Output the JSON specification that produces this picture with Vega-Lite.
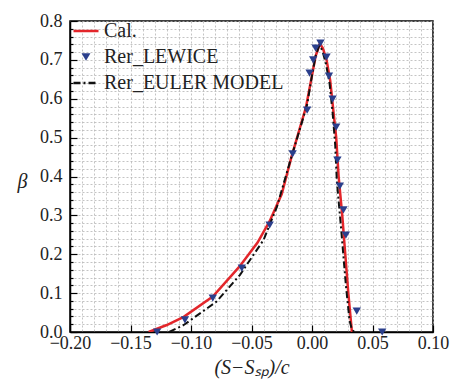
{
  "$schema": "https://vega.github.io/schema/vega-lite/v6.json",
  "autosize": "none",
  "padding": {"left": 70, "top": 21, "right": 18, "bottom": 47},
  "width": 363,
  "height": 311,
  "background": "white",
  "config": {
    "font": "Liberation Serif, Times New Roman, DejaVu Serif, serif",
    "view": {"stroke": "black", "strokeWidth": 1.5},
    "axis": {"labelFont": "Liberation Serif, Times New Roman, serif", "titleFont": "Liberation Serif, Times New Roman, serif", "labelFontSize": 18, "titleFontSize": 20, "labelColor": "#222", "titleColor": "#222", "domainColor": "black", "domainWidth": 1.5, "tickColor": "black", "tickWidth": 1.2, "gridColor": "#b5b5b5", "gridDash": [2, 2], "gridWidth": 0.8, "titleFontWeight": "normal"},
    "legend": {"labelFont": "Liberation Serif, Times New Roman, serif", "labelFontSize": 20, "labelColor": "#222", "labelLimit": 300}
  },
  "data": {"values": [
    {"series": "Cal.", "x": -0.135, "y": 0.0},
    {"series": "Cal.", "x": -0.12, "y": 0.018},
    {"series": "Cal.", "x": -0.106, "y": 0.039},
    {"series": "Cal.", "x": -0.082, "y": 0.091},
    {"series": "Cal.", "x": -0.06, "y": 0.168},
    {"series": "Cal.", "x": -0.045, "y": 0.23},
    {"series": "Cal.", "x": -0.035, "y": 0.285},
    {"series": "Cal.", "x": -0.025, "y": 0.355},
    {"series": "Cal.", "x": -0.017, "y": 0.45},
    {"series": "Cal.", "x": -0.01, "y": 0.525},
    {"series": "Cal.", "x": -0.005, "y": 0.578},
    {"series": "Cal.", "x": 0.0, "y": 0.66},
    {"series": "Cal.", "x": 0.003, "y": 0.71},
    {"series": "Cal.", "x": 0.0065, "y": 0.742},
    {"series": "Cal.", "x": 0.009, "y": 0.73},
    {"series": "Cal.", "x": 0.012, "y": 0.70},
    {"series": "Cal.", "x": 0.015, "y": 0.648},
    {"series": "Cal.", "x": 0.0176, "y": 0.571},
    {"series": "Cal.", "x": 0.020, "y": 0.50},
    {"series": "Cal.", "x": 0.022, "y": 0.40},
    {"series": "Cal.", "x": 0.025, "y": 0.30},
    {"series": "Cal.", "x": 0.0275, "y": 0.20},
    {"series": "Cal.", "x": 0.030, "y": 0.10},
    {"series": "Cal.", "x": 0.033, "y": 0.0},
    {"series": "Rer_EULER MODEL", "x": -0.118, "y": 0.0},
    {"series": "Rer_EULER MODEL", "x": -0.106, "y": 0.018},
    {"series": "Rer_EULER MODEL", "x": -0.079, "y": 0.078},
    {"series": "Rer_EULER MODEL", "x": -0.0595, "y": 0.147},
    {"series": "Rer_EULER MODEL", "x": -0.04, "y": 0.237},
    {"series": "Rer_EULER MODEL", "x": -0.029, "y": 0.322},
    {"series": "Rer_EULER MODEL", "x": -0.018, "y": 0.44},
    {"series": "Rer_EULER MODEL", "x": -0.01, "y": 0.522},
    {"series": "Rer_EULER MODEL", "x": -0.004, "y": 0.585},
    {"series": "Rer_EULER MODEL", "x": 0.0, "y": 0.66},
    {"series": "Rer_EULER MODEL", "x": 0.003, "y": 0.71},
    {"series": "Rer_EULER MODEL", "x": 0.006, "y": 0.737},
    {"series": "Rer_EULER MODEL", "x": 0.0085, "y": 0.725},
    {"series": "Rer_EULER MODEL", "x": 0.0115, "y": 0.69},
    {"series": "Rer_EULER MODEL", "x": 0.0145, "y": 0.64},
    {"series": "Rer_EULER MODEL", "x": 0.017, "y": 0.565},
    {"series": "Rer_EULER MODEL", "x": 0.0192, "y": 0.48},
    {"series": "Rer_EULER MODEL", "x": 0.0205, "y": 0.39},
    {"series": "Rer_EULER MODEL", "x": 0.0245, "y": 0.25},
    {"series": "Rer_EULER MODEL", "x": 0.028, "y": 0.12},
    {"series": "Rer_EULER MODEL", "x": 0.031, "y": 0.03},
    {"series": "Rer_EULER MODEL", "x": 0.033, "y": 0.006},
    {"series": "Rer_EULER MODEL", "x": 0.035, "y": 0.0},
    {"series": "Rer_LEWICE", "x": -0.128, "y": 0.0},
    {"series": "Rer_LEWICE", "x": -0.105, "y": 0.031},
    {"series": "Rer_LEWICE", "x": -0.082, "y": 0.087},
    {"series": "Rer_LEWICE", "x": -0.058, "y": 0.164},
    {"series": "Rer_LEWICE", "x": -0.035, "y": 0.275},
    {"series": "Rer_LEWICE", "x": -0.016, "y": 0.458},
    {"series": "Rer_LEWICE", "x": -0.004, "y": 0.571},
    {"series": "Rer_LEWICE", "x": -0.002, "y": 0.666},
    {"series": "Rer_LEWICE", "x": 0.001, "y": 0.70},
    {"series": "Rer_LEWICE", "x": 0.003, "y": 0.73},
    {"series": "Rer_LEWICE", "x": 0.007, "y": 0.743},
    {"series": "Rer_LEWICE", "x": 0.012, "y": 0.707},
    {"series": "Rer_LEWICE", "x": 0.014, "y": 0.658},
    {"series": "Rer_LEWICE", "x": 0.017, "y": 0.599},
    {"series": "Rer_LEWICE", "x": 0.020, "y": 0.527},
    {"series": "Rer_LEWICE", "x": 0.021, "y": 0.442},
    {"series": "Rer_LEWICE", "x": 0.023, "y": 0.375},
    {"series": "Rer_LEWICE", "x": 0.026, "y": 0.314},
    {"series": "Rer_LEWICE", "x": 0.028, "y": 0.249},
    {"series": "Rer_LEWICE", "x": 0.037, "y": 0.054},
    {"series": "Rer_LEWICE", "x": 0.058, "y": 0.0}
  ]},
  "encoding": {
    "x": {"field": "x", "type": "quantitative",
      "scale": {"domain": [-0.2, 0.1], "nice": false, "zero": false},
      "axis": {
        "title": "(S−Sₛₚ)/c", "titleFontStyle": "italic", "titlePadding": 5,
        "values": [-0.2,-0.19,-0.18,-0.17,-0.16,-0.15,-0.14,-0.13,-0.12,-0.11,-0.1,-0.09,-0.08,-0.07,-0.06,-0.05,-0.04,-0.03,-0.02,-0.01,0,0.01,0.02,0.03,0.04,0.05,0.06,0.07,0.08,0.09,0.1],
        "labelExpr": "abs(datum.value*20 - round(datum.value*20)) < 1e-6 ? format(datum.value, '.2f') : ''",
        "tickOpacity": {"condition": {"test": "abs(datum.value*20 - round(datum.value*20)) < 1e-6", "value": 1}, "value": 0},
        "tickSize": -7, "labelPadding": 9, "labelFlush": false, "labelOverlap": false, "grid": true,
        "encode": {"labels": {"update": {"font": {"value": "Liberation Serif"}}}}
      }},
    "y": {"field": "y", "type": "quantitative",
      "scale": {"domain": [0, 0.8], "nice": false},
      "axis": {
        "title": "β", "titleFontStyle": "italic", "titleAngle": 0, "titleX": -48, "titleY": 160, "titleAlign": "center", "titleBaseline": "middle",
        "values": [0,0.02,0.04,0.06,0.08,0.1,0.12,0.14,0.16,0.18,0.2,0.22,0.24,0.26,0.28,0.3,0.32,0.34,0.36,0.38,0.4,0.42,0.44,0.46,0.48,0.5,0.52,0.54,0.56,0.58,0.6,0.62,0.64,0.66,0.68,0.7,0.72,0.74,0.76,0.78,0.8],
        "labelExpr": "abs(datum.value*10 - round(datum.value*10)) < 1e-6 ? format(datum.value, '.1f') : ''",
        "tickSize": {"condition": {"test": "abs(datum.value*10 - round(datum.value*10)) < 1e-6", "value": -7}, "value": -3},
        "labelPadding": 15, "labelOverlap": false, "grid": true,
        "encode": {"labels": {"update": {"font": {"value": "Liberation Serif"}}}}
      }},
    "color": {"field": "series", "type": "nominal",
      "scale": {"domain": ["Cal.", "Rer_LEWICE", "Rer_EULER MODEL"], "range": ["#e3262b", "#2b3f8c", "#111111"]},
      "legend": {"title": null, "orient": "none", "legendX": 6, "legendY": 0, "symbolType": "stroke", "symbolSize": 625, "symbolStrokeWidth": 2.5, "rowPadding": 6, "labelOffset": 8, "labelLimit": 300,
        "encode": {
          "labels": {"update": {"font": {"value": "Liberation Serif"}}},
          "symbols": {"update": {
          "shape": {"signal": "datum.value === 'Rer_LEWICE' ? 'triangle-down' : 'stroke'"},
          "size": {"signal": "datum.value === 'Rer_LEWICE' ? 80 : 625"},
          "fill": {"signal": "datum.value === 'Rer_LEWICE' ? '#2b3f8c' : 'transparent'"},
          "strokeDash": {"signal": "datum.value === 'Rer_EULER MODEL' ? [7,3,2,3] : [1,0]"},
          "strokeWidth": {"signal": "datum.value === 'Rer_LEWICE' ? 0 : 2.5"}
        }}}}
    }
  },
  "layer": [
    {"transform": [{"filter": "datum.series === 'Cal.'"}],
     "mark": {"type": "line", "strokeWidth": 2.5, "clip": true}},
    {"transform": [{"filter": "datum.series === 'Rer_EULER MODEL'"}],
     "mark": {"type": "line", "strokeWidth": 2, "strokeDash": [7, 3, 2, 3], "clip": true}},
    {"transform": [{"filter": "datum.series === 'Rer_LEWICE'"}],
     "mark": {"type": "point", "shape": "triangle-down", "filled": true, "size": 70, "opacity": 1}}
  ]
}
